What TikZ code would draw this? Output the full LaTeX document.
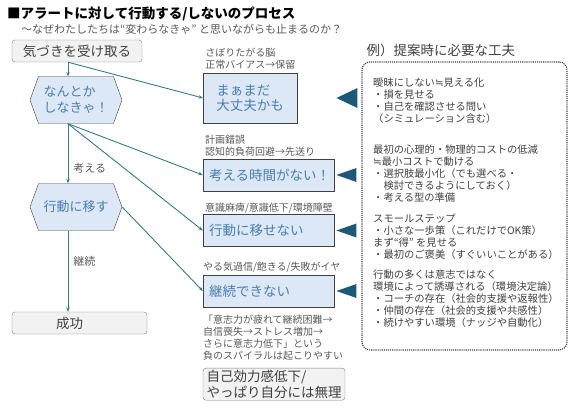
\documentclass[tikz,border=0pt]{standalone}
\usepackage{fontspec}
\setmainfont{Noto Sans CJK JP}
\newfontfamily\symfont{DejaVu Sans}
\usepackage{tikz}
\usetikzlibrary{positioning, arrows.meta, shapes.symbols}
\definecolor{boxblue}{RGB}{220,232,245}
\definecolor{boxtext}{RGB}{74,126,176}
\definecolor{boxline}{RGB}{64,64,64}
\definecolor{boxgray}{RGB}{242,242,242}
\definecolor{grayline}{RGB}{128,128,128}
\definecolor{darktext}{RGB}{64,64,64}
\definecolor{notetext}{RGB}{89,89,89}
\definecolor{flow}{RGB}{56,122,138}
\definecolor{pointerblue}{RGB}{30,88,120}

\begin{document}
\begin{tikzpicture}[x=1pt, y=-1pt, node distance=2pt, auto]
    % スタイル
    \tikzstyle{txt} = [inner sep=0pt, align=left]
    \tikzstyle{title} = [txt, font=\bfseries\fontsize{13.5}{16}\selectfont, text=black]
    \tikzstyle{subtitle} = [txt, font=\fontsize{11}{13}\selectfont, text=notetext]
    \tikzstyle{graybox} = [rectangle, draw=grayline, fill=boxgray, rounded corners=3pt, text=darktext, font=\fontsize{13.5}{16}\selectfont, minimum height=22pt, inner sep=0pt]
    \tikzstyle{hexa} = [signal, signal to=east and west, signal pointer angle=140, draw=boxline, fill=boxblue, text=boxtext, font=\fontsize{13}{16}\selectfont, minimum width=92pt, minimum height=47pt, align=left, inner sep=0pt]
    \tikzstyle{cause} = [rectangle, draw=boxline, fill=boxblue, text=boxtext, font=\fontsize{13.5}{15}\selectfont, align=left, inner xsep=6pt, inner ysep=0pt, minimum height=32pt]
    \tikzstyle{note} = [txt, font=\fontsize{10}{12}\selectfont, text=notetext]
    \tikzstyle{edgelabel} = [txt, font=\fontsize{11}{13}\selectfont, text=notetext, anchor=west, xshift=5pt]
    \tikzstyle{hint} = [txt, font=\fontsize{10.3}{11.8}\selectfont, text=darktext]
    \tikzstyle{tipsbox} = [rectangle, draw=boxline, line width=1.1pt, dash pattern=on 1.1pt off 1pt, rounded corners=8pt]
    \tikzstyle{line} = [draw, flow, line width=0.9pt, -{Stealth[length=4.5pt, width=3.5pt]}]
    \tikzstyle{pointer} = [fill=pointerblue]

    \useasboundingbox (0,0) rectangle (570,417);
    \coordinate (spine) at (68,0);

    % タイトル
    \node [title, anchor=west] (heading) at (7,14) {■アラートに対して行動する/しないのプロセス};
    \node [subtitle, anchor=west] (question) at (21,29) {～なぜわたしたちは“変わらなきゃ” と思いながらも止まるのか？};

    % 左の流れ
    \node [graybox, minimum width=130pt] (notice) at (77,51) {気づきを受け取る};
    \node [hexa] (urge) at (76,100) {なんとか\\しなきゃ！};
    \node [hexa] (act) at (76,207) {行動に移す};
    \node [graybox, minimum width=135pt] (success) at (79.5,323) {成功\hspace*{20pt}};

    % 止まる理由
    \node [cause, inner xsep=13pt, minimum height=50pt] (slack) at (250,98) {まぁまだ\\大丈夫かも};
    \node [cause, text width=119pt] (busy) at (268.5,175) {考える時間がない！};
    \node [cause, text width=119pt] (stuck) at (268.5,230.5) {行動に移せない};
    \node [cause, text width=119pt] (quit) at (268.5,291) {継続できない};

    \node [note, above=3pt of slack.north west, anchor=south west, xshift=2pt] (slacknote) {さぼりたがる脳\\正常バイアス→保留};
    \node [note, above=2pt of busy.north west, anchor=south west, xshift=2pt] (busynote) {計画錯誤\\認知的負荷回避→先送り};
    \node [note, above=1pt of stuck.north west, anchor=south west, xshift=2pt] (stucknote) {意識麻痺/意識低下/環境障壁};
    \node [note, above=2pt of quit.north west, anchor=south west] (quitnote) {やる気過信/飽きる/失敗がイヤ};

    \node [note, below=8pt of quit.south west, anchor=north west] (spiral) {「意志力が疲れて継続困難→\\自信喪失→ストレス増加→\\さらに意志力低下」という\\負のスパイラルは起こりやすい};
    \node [graybox, align=left, inner xsep=3.5pt, inner ysep=1.5pt, font=\fontsize{13.5}{16.5}\selectfont, below=7pt of spiral.south west, anchor=north west] (giveup) {自己効力感低下/\\やっぱり自分には無理};

    % 提案時の工夫
    \node [tipsbox, minimum width=205pt, minimum height=288pt] (tips) at (464.5,206) {};
    \node [txt, font=\fontsize{13.5}{16}\selectfont, text=darktext, above right=4pt and 5pt of tips.north west] (tipshead) {例）提案時に必要な工夫};
    \node [hint, anchor=north west] (visible) at (373,78) {曖昧にしない{\symfont ≒}見える化\\・損を見せる\\・自己を確認させる問い\\（シミュレーション含む）};
    \node [hint, anchor=north west] (lowcost) at (373,145) {最初の心理的・物理的コストの低減\\{\symfont ≒}最小コストで動ける\\・選択肢最小化（でも選べる・\\　検討できるようにしておく）\\・考える型の準備};
    \node [hint, anchor=north west] (smallstep) at (373,214) {スモールステップ\\・小さな一歩策（これだけでOK策）\\まず“得” を見せる\\・最初のご褒美（すぐいいことがある）};
    \node [hint, anchor=north west] (environment) at (373,270) {行動の多くは意志ではなく\\環境によって誘導される（環境決定論）\\・コーチの存在（社会的支援や返報性）\\・仲間の存在（社会的支援や共感性）\\・続けやすい環境（ナッジや自動化）};

    % 接続線
    \path [line] (notice.south -| spine) -- (urge.north -| spine);
    \path [line] (urge.south -| spine) -- node [edgelabel, pos=0.75] (thinklabel) {考える} (act.north -| spine);
    \path [line] (act.south -| spine) -- node [edgelabel, pos=0.38] (keeplabel) {継続} (success.north -| spine);
    \path [line] (notice.south -| spine) -- (slack.west);
    \path [line] (urge.south -| spine) -- (busy.west);
    \path [line] (urge.south -| spine) -- (stuck.west);
    \path [line] (act.east) -- (quit.west);

    % 三角の矢印
    \coordinate (tipline) at ([xshift=-25pt]tips.west);
    \fill [pointer] (tipline |- slack.east) -- ++(21,-10) -- ++(0,20) -- cycle;
    \fill [pointer] (tipline |- busy.east) -- ++(20,-7) -- ++(0,14) -- cycle;
    \fill [pointer] (tipline |- stuck.east) -- ++(20,-7) -- ++(0,14) -- cycle;
    \fill [pointer] (tipline |- quit.east) -- ++(20,-7) -- ++(0,14) -- cycle;
\end{tikzpicture}
\end{document}
